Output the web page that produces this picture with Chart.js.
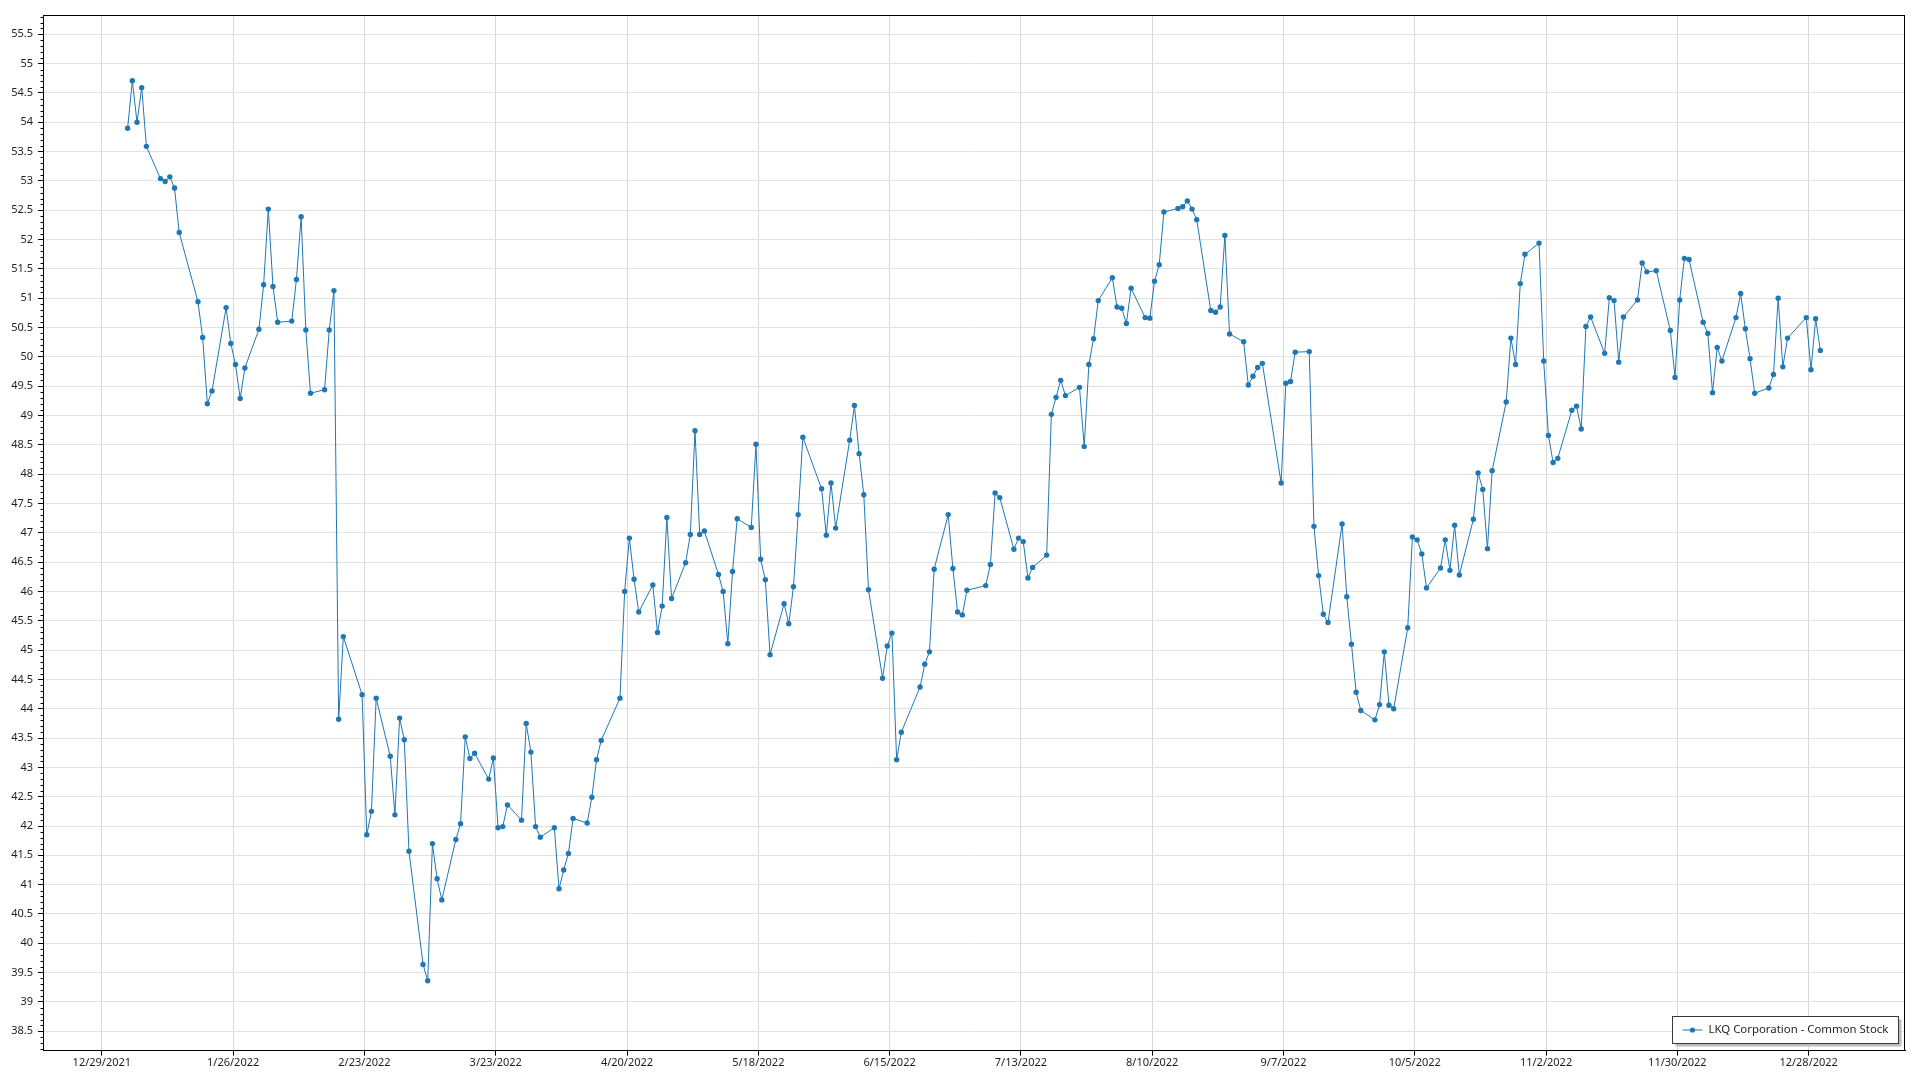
<!DOCTYPE html>
<html>
<head>
<meta charset="utf-8">
<title>LKQ Corporation - Common Stock</title>
<script src="https://cdn.jsdelivr.net/npm/chart.js@4.4.1/dist/chart.umd.min.js"></script>
<style>
  html, body { margin: 0; padding: 0; background: #fff; }
  #wrap { width: 1920px; height: 1080px; }
</style>
</head>
<body>
<div id="wrap"><canvas id="stockChart" width="1920" height="1080"></canvas></div>
<script>
// --- data ---
const SERIES_LABEL = 'LKQ Corporation - Common Stock';
const YEAR = 2022;

// trading days (MM-DD) and closing prices
const tradingDays = [
  '01-03','01-04','01-05','01-06','01-07','01-10','01-11','01-12','01-13','01-14',
  '01-18','01-19','01-20','01-21','01-24','01-25','01-26','01-27','01-28','01-31',
  '02-01','02-02','02-03','02-04','02-07','02-08','02-09','02-10','02-11','02-14',
  '02-15','02-16','02-17','02-18','02-22','02-23','02-24','02-25','02-28',
  '03-01','03-02','03-03','03-04','03-07','03-08','03-09','03-10','03-11','03-14',
  '03-15','03-16','03-17','03-18','03-21','03-22','03-23','03-24','03-25','03-28',
  '03-29','03-30','03-31',
  '04-01','04-04','04-05','04-06','04-07','04-08','04-11','04-12','04-13','04-14',
  '04-18','04-19','04-20','04-21','04-22','04-25','04-26','04-27','04-28','04-29',
  '05-02','05-03','05-04','05-05','05-06','05-09','05-10','05-11','05-12','05-13',
  '05-16','05-17','05-18','05-19','05-20','05-23','05-24','05-25','05-26','05-27','05-31',
  '06-01','06-02','06-03','06-06','06-07','06-08','06-09','06-10','06-13','06-14',
  '06-15','06-16','06-17','06-21','06-22','06-23','06-24','06-27','06-28','06-29','06-30',
  '07-01','07-05','07-06','07-07','07-08','07-11','07-12','07-13','07-14','07-15',
  '07-18','07-19','07-20','07-21','07-22','07-25','07-26','07-27','07-28','07-29',
  '08-01','08-02','08-03','08-04','08-05','08-08','08-09','08-10','08-11','08-12',
  '08-15','08-16','08-17','08-18','08-19','08-22','08-23','08-24','08-25','08-26',
  '08-29','08-30','08-31',
  '09-01','09-02','09-06','09-07','09-08','09-09','09-12','09-13','09-14','09-15',
  '09-16','09-19','09-20','09-21','09-22','09-23','09-26','09-27','09-28','09-29','09-30',
  '10-03','10-04','10-05','10-06','10-07','10-10','10-11','10-12','10-13','10-14',
  '10-17','10-18','10-19','10-20','10-21','10-24','10-25','10-26','10-27','10-28','10-31',
  '11-01','11-02','11-03','11-04','11-07','11-08','11-09','11-10','11-11','11-14',
  '11-15','11-16','11-17','11-18','11-21','11-22','11-23','11-25','11-28','11-29','11-30',
  '12-01','12-02','12-05','12-06','12-07','12-08','12-09','12-12','12-13','12-14',
  '12-15','12-16','12-19','12-20','12-21','12-22','12-23','12-27','12-28','12-29','12-30'
];

const closePrices = [
  53.90, 54.71, 54.00, 54.59, 53.59, 53.04, 52.99, 53.07, 52.88, 52.12,
  50.94, 50.33, 49.20, 49.42, 50.84, 50.23, 49.87, 49.29, 49.81, 50.47,
  51.23, 52.52, 51.20, 50.59, 50.61, 51.32, 52.39, 50.46, 49.38, 49.44,
  50.46, 51.13, 43.82, 45.23, 44.24, 41.85, 42.25, 44.18, 43.19,
  42.19, 43.84, 43.47, 41.57, 39.64, 39.36, 41.70, 41.10, 40.74, 41.77,
  42.04, 43.52, 43.15, 43.24, 42.80, 43.16, 41.97, 41.99, 42.36, 42.10,
  43.75, 43.26, 41.99,
  41.81, 41.97, 40.93, 41.25, 41.53, 42.13, 42.05, 42.49, 43.13, 43.46,
  44.18, 46.00, 46.91, 46.21, 45.65, 46.11, 45.30, 45.75, 47.26, 45.88,
  46.49, 46.97, 48.74, 46.97, 47.03, 46.29, 46.00, 45.11, 46.34, 47.24,
  47.09, 48.51, 46.55, 46.20, 44.92, 45.79, 45.45, 46.08, 47.31, 48.63, 47.75,
  46.96, 47.85, 47.08, 48.58, 49.17, 48.35, 47.65, 46.03, 44.52, 45.07,
  45.29, 43.13, 43.60, 44.37, 44.76, 44.97, 46.38, 47.31, 46.39, 45.65, 45.60,
  46.02, 46.10, 46.46, 47.68, 47.60, 46.72, 46.91, 46.85, 46.23, 46.41,
  46.62, 49.02, 49.31, 49.60, 49.34, 49.48, 48.47, 49.87, 50.31, 50.96,
  51.35, 50.85, 50.83, 50.57, 51.17, 50.67, 50.66, 51.29, 51.57, 52.47,
  52.53, 52.56, 52.66, 52.52, 52.34, 50.79, 50.76, 50.85, 52.07, 50.39,
  50.26, 49.52, 49.67,
  49.82, 49.89, 47.85, 49.55, 49.58, 50.08, 50.09, 47.11, 46.27, 45.61,
  45.47, 47.15, 45.91, 45.10, 44.28, 43.97, 43.81, 44.07, 44.97, 44.06, 44.00,
  45.38, 46.93, 46.88, 46.64, 46.06, 46.40, 46.88, 46.36, 47.13, 46.28,
  47.23, 48.02, 47.74, 46.73, 48.06, 49.23, 50.32, 49.87, 51.25, 51.75, 51.94,
  49.93, 48.66, 48.20, 48.27, 49.09, 49.16, 48.77, 50.52, 50.68, 50.06,
  51.01, 50.96, 49.91, 50.68, 50.97, 51.60, 51.45, 51.47, 50.45, 49.65, 50.97,
  51.68, 51.66, 50.59, 50.40, 49.39, 50.16, 49.93, 50.67, 51.08, 50.48,
  49.97, 49.38, 49.47, 49.70, 51.00, 49.83, 50.32, 50.67, 49.78, 50.65, 50.11
];

// x axis tick labels (every 4 weeks)
const xTickLabels = [
  '12/29/2021', '1/26/2022', '2/23/2022', '3/23/2022', '4/20/2022', '5/18/2022', '6/15/2022',
  '7/13/2022', '8/10/2022', '9/7/2022', '10/5/2022', '11/2/2022', '11/30/2022', '12/28/2022'
];

const Y_MIN = 38.17;
const Y_MAX = 55.83;
const Y_STEP = 0.5;

// --- helpers ---
const DAY_MS = 86400000;
const ORIGIN = Date.UTC(2021, 11, 29);

function dayNumber(y, m, d) {
  return (Date.UTC(y, m - 1, d) - ORIGIN) / DAY_MS;
}

function parseTick(label) {
  const [m, d, y] = label.split('/').map(Number);
  return dayNumber(y, m, d);
}

// points sit at midday of their trading day
const points = tradingDays.map((md, i) => {
  const [m, d] = md.split('-').map(Number);
  return { x: dayNumber(YEAR, m, d) + 0.5, y: closePrices[i] };
});
const xTickValues = xTickLabels.map(parseTick);

const firstX = points[0].x;
const lastX = points[points.length - 1].x;
const xPad = (lastX - firstX) * 0.05;

const FONT = '"Noto Sans", "Open Sans", sans-serif';
const LINE_COLOR = '#1f77b4';

// --- plugins ---
const frameAndMinorTicks = {
  id: 'frameAndMinorTicks',
  afterDraw(chart) {
    const { ctx, chartArea: a, scales: { y } } = chart;
    ctx.save();
    ctx.strokeStyle = '#000';
    ctx.lineWidth = 1;
    const l = Math.round(a.left) + 0.5, t = Math.round(a.top) + 0.5;
    const r = Math.round(a.right) - 0.5, b = Math.round(a.bottom) - 0.5;
    ctx.strokeRect(l, t, r - l, b - t);
    // minor ticks on y axis every 0.1
    ctx.beginPath();
    for (let v = Math.ceil(y.min * 10); v <= Math.floor(y.max * 10); v++) {
      if (v % 5 === 0) continue;
      const py = Math.round(y.getPixelForValue(v / 10)) + 0.5;
      ctx.moveTo(l - 3, py);
      ctx.lineTo(l, py);
    }
    ctx.stroke();
    ctx.restore();
  }
};

const insideLegend = {
  id: 'insideLegend',
  afterDraw(chart) {
    const { ctx, chartArea: a } = chart;
    const ds = chart.data.datasets[0];
    ctx.save();
    ctx.font = '11.4px ' + FONT;
    const tw = ctx.measureText(ds.label).width;
    const w = Math.round(10 + 20 + 6 + tw + 10);
    const h = 27;
    const x = Math.round(a.right - 7 - w) + 0.5;
    const y = Math.round(a.bottom - 8 - h) + 0.5;
    // drop shadow
    ctx.fillStyle = '#bdbdbd';
    ctx.fillRect(x + 3, y + 3, w, h);
    ctx.fillStyle = '#fff';
    ctx.fillRect(x, y, w, h);
    ctx.strokeStyle = '#3a3a3a';
    ctx.lineWidth = 1;
    ctx.strokeRect(x, y, w, h);
    // sample line + marker
    const cy = y + h / 2;
    ctx.strokeStyle = LINE_COLOR;
    ctx.beginPath();
    ctx.moveTo(x + 10, cy);
    ctx.lineTo(x + 30, cy);
    ctx.stroke();
    ctx.fillStyle = LINE_COLOR;
    ctx.beginPath();
    ctx.arc(x + 20, cy, 2.6, 0, Math.PI * 2);
    ctx.fill();
    // label
    ctx.fillStyle = '#1e1e1e';
    ctx.textBaseline = 'middle';
    ctx.textAlign = 'left';
    ctx.fillText(ds.label, x + 36, cy);
    ctx.restore();
  }
};

// --- chart ---
const chart = new Chart(document.getElementById('stockChart'), {
  type: 'line',
  data: {
    datasets: [{
      label: SERIES_LABEL,
      data: points,
      borderColor: LINE_COLOR,
      backgroundColor: LINE_COLOR,
      borderWidth: 1,
      pointRadius: 2.7,
      pointBorderWidth: 0,
      pointBackgroundColor: LINE_COLOR,
      tension: 0,
      fill: false
    }]
  },
  options: {
    responsive: false,
    devicePixelRatio: 1,
    animation: false,
    layout: { padding: { top: 15, right: 15, bottom: 0, left: 0 } },
    scales: {
      x: {
        type: 'linear',
        min: firstX - xPad,
        max: lastX + xPad,
        afterBuildTicks: (scale) => {
          scale.ticks = xTickValues.map(v => ({ value: v }));
        },
        afterFit: (scale) => { scale.height = 29.4; },
        ticks: {
          autoSkip: false,
          maxRotation: 0,
          padding: 1,
          color: '#1e1e1e',
          font: { family: FONT, size: 11 },
          callback: (v, i) => xTickLabels[i]
        },
        grid: { color: '#d8d8d8', tickColor: '#000', tickLength: 5 },
        border: { color: '#000', width: 1 }
      },
      y: {
        type: 'linear',
        min: Y_MIN,
        max: Y_MAX,
        afterFit: (scale) => { scale.width = 43; },
        ticks: {
          stepSize: Y_STEP,
          includeBounds: false,
          padding: 5,
          color: '#1e1e1e',
          font: { family: FONT, size: 11 },
          callback: (v) => String(Math.round(v * 10) / 10)
        },
        grid: { color: '#e2e2e2', tickColor: '#000', tickLength: 5 },
        border: { color: '#000', width: 1 }
      }
    },
    plugins: {
      legend: { display: false },
      tooltip: { enabled: false }
    }
  },
  plugins: [frameAndMinorTicks, insideLegend]
});
</script>
</body>
</html>
